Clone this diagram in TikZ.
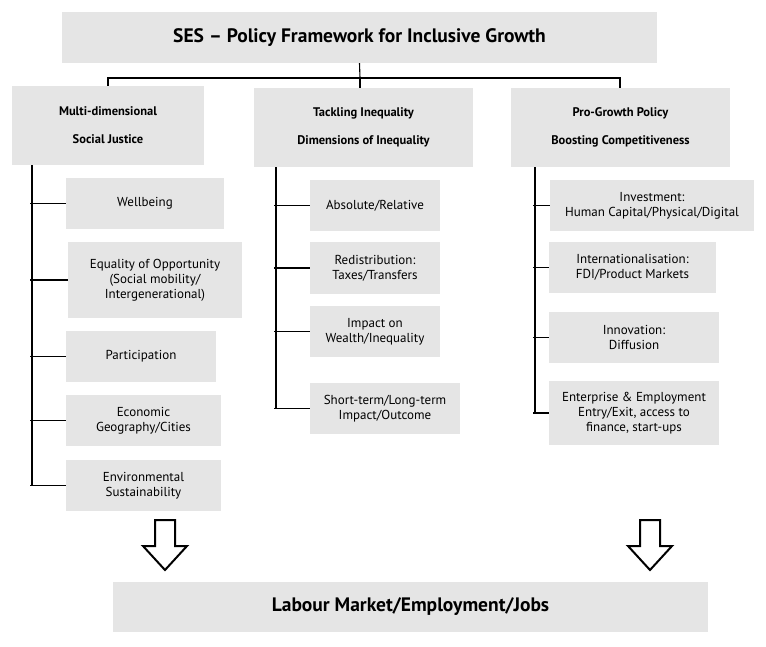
\documentclass[tikz,border=0pt]{standalone}
\usepackage{fontspec}
\setmainfont{PT Sans}
\begin{document}
\begin{tikzpicture}[x=1pt,y=-1pt,
  box/.style={fill=black!10,draw=none,align=center,inner sep=0pt,font=\fontsize{13}{15}\selectfont},
  hd/.style={box,font=\bfseries\fontsize{12.5}{28}\selectfont},
  ln/.style={line width=1.1pt,black}]
\useasboundingbox (0,0) rectangle (766,646);
\newcommand{\bx}[6]{\node[#1,minimum width=#4-#2,minimum height=#5-#3] (#6) at ({(#2+#4)/2},{(#3+#5)/2})}
\bx{box}{62}{12}{657}{63}{t} {\bfseries\fontsize{19.5}{22}\selectfont SES -- Policy Framework for Inclusive Growth};
\bx{hd}{12}{86}{204}{165}{h1} {Multi-dimensional\\Social Justice};
\bx{hd}{254}{88}{473}{167}{h2} {Tackling Inequality\\Dimensions of Inequality};
\bx{hd}{511}{88}{730}{167}{h3} {Pro-Growth Policy\\Boosting Competitiveness};
\bx{box}{66}{178}{224}{229}{a1} {Wellbeing};
\bx{box}{68}{242}{242}{318}{a2} {Equality of Opportunity\\(Social mobility/\\Intergenerational)};
\bx{box}{66}{331}{216}{382}{a3} {Participation};
\bx{box}{66}{395}{221}{446}{a4} {Economic\\Geography/Cities};
\bx{box}{66}{460}{221}{511}{a5} {Environmental\\Sustainability};
\bx{box}{310}{180}{440}{231}{b1} {Absolute/Relative};
\bx{box}{310}{242}{440}{294}{b2} {Redistribution:\\Taxes/Transfers};
\bx{box}{310}{306}{440}{357}{b3} {Impact on\\Wealth/Inequality};
\bx{box}{310}{383}{460}{434}{b4} {Short-term/Long-term\\Impact/Outcome};
\bx{box}{550}{180}{754}{231}{c1} {Investment:\\Human Capital/Physical/Digital};
\bx{box}{549}{242}{716}{293}{c2} {Internationalisation:\\FDI/Product Markets};
\bx{box}{549}{312}{719}{363}{c3} {Innovation:\\Diffusion};
\bx{box}{549}{381}{719}{445}{c4} {Enterprise \& Employment\\Entry/Exit, access to\\finance, start-ups};
\bx{box}{113}{582}{708}{632}{bt} {\bfseries\fontsize{19.5}{22}\selectfont Labour Market/Employment/Jobs};
% top connectors
\coordinate (j) at (360,78);
\draw[ln] (t.south) -- (j);
\draw[ln] (h1.north -| 108,0) |- (j) -| (h3.north -| 620,0);
\draw[ln] (j) -- (h2.north -| j);
% column trunks
\draw[ln] (h1.south -| 32,0) -- (32,486);
\foreach \n in {a1,a2,a3,a4,a5} \draw[ln] (30,0 |- \n.west) -- (\n.west);
\draw[ln] (h2.south -| 276,0) -- (276,408);
\foreach \n in {b1,b2,b3,b4} \draw[ln] (274,0 |- \n.west) -- (\n.west);
\draw[ln] (h3.south -| 535,0) -- (535,414);
\foreach \n in {c1,c2,c3,c4} \draw[ln] (533,0 |- \n.west) -- (\n.west);
% hollow arrows
\foreach \x in {165,650}
  \draw[line width=2pt,fill=white,line join=miter] (\x-10,520) -- (\x+10,520) -- (\x+10,546) -- (\x+22,546) -- (\x,570) -- (\x-22,546) -- (\x-10,546) -- cycle;
\end{tikzpicture}
\end{document}
